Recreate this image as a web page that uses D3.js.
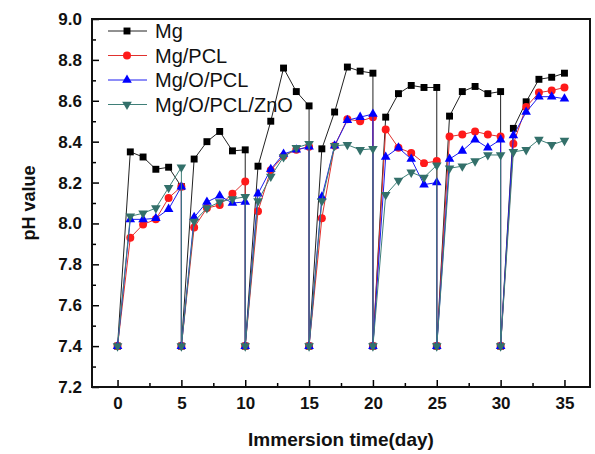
<!DOCTYPE html>
<html>
<head>
<meta charset="utf-8">
<script src="https://cdn.jsdelivr.net/npm/d3@7"></script>
<style>
  body { margin: 0; background: #fff; }
  svg { display: block; font-family: "Liberation Sans", Arial, sans-serif; }
</style>
</head>
<body>
<svg id="chart" width="595" height="454"></svg>
<script>
// immersion days; the medium is refreshed every 5 days so those days appear twice
// (reading before refresh, then the fresh 7.4 value)
var days = [0, 1, 2, 3, 4, 5, 5, 6, 7, 8, 9, 10, 10, 11, 12, 13, 14, 15, 15,
  16, 17, 18, 19, 20, 20, 21, 22, 23, 24, 25, 25, 26, 27, 28, 29, 30, 30,
  31, 32, 33, 34, 35];

var mgValues = [7.4, 8.35, 8.325, 8.265, 8.275, 8.18, 7.4, 8.315, 8.40, 8.45, 8.355, 8.36,
  7.4, 8.28, 8.50, 8.76, 8.645, 8.575, 7.4, 8.365, 8.545, 8.765, 8.745, 8.735,
  7.4, 8.52, 8.635, 8.675, 8.665, 8.665, 7.4, 8.525, 8.645, 8.67, 8.635, 8.645,
  7.4, 8.465, 8.595, 8.705, 8.715, 8.735];
var mgPclValues = [7.4, 7.93, 7.995, 8.02, 8.125, 8.18, 7.4, 7.98, 8.075, 8.09, 8.145, 8.205,
  7.4, 8.06, 8.26, 8.33, 8.36, 8.375, 7.4, 8.025, 8.38, 8.51, 8.50, 8.52,
  7.4, 8.46, 8.37, 8.345, 8.295, 8.305, 7.4, 8.425, 8.435, 8.45, 8.435, 8.425,
  7.4, 8.39, 8.57, 8.64, 8.65, 8.665];
var mgOPclValues = [7.4, 8.02, 8.02, 8.025, 8.07, 8.18, 7.4, 8.03, 8.105, 8.135, 8.10, 8.105,
  7.4, 8.145, 8.265, 8.34, 8.36, 8.375, 7.4, 8.13, 8.38, 8.505, 8.52, 8.535,
  7.4, 8.325, 8.37, 8.315, 8.19, 8.20, 7.4, 8.315, 8.355, 8.41, 8.37, 8.41,
  7.4, 8.43, 8.545, 8.62, 8.62, 8.61];
var mgOPclZnoValues = [7.4, 8.035, 8.05, 8.075, 8.175, 8.275, 7.4, 8.01, 8.075, 8.105, 8.12, 8.13,
  7.4, 8.11, 8.23, 8.325, 8.37, 8.39, 7.4, 8.11, 8.38, 8.385, 8.36, 8.365,
  7.4, 8.14, 8.21, 8.25, 8.225, 8.285, 7.4, 8.27, 8.28, 8.305, 8.335, 8.335,
  7.4, 8.35, 8.36, 8.41, 8.385, 8.405];

var seriesNames = ['Mg', 'Mg/PCL', 'Mg/O/PCL', 'Mg/O/PCL/ZnO'];
var seriesValues = [mgValues, mgPclValues, mgOPclValues, mgOPclZnoValues];

var xTicks = [0, 5, 10, 15, 20, 25, 30, 35];
var yTicks = [7.2, 7.4, 7.6, 7.8, 8.0, 8.2, 8.4, 8.6, 8.8, 9.0];

// styling per series (colour + marker)
var styles = [
  {line: '#222', fill: '#000', symbol: d3.symbolSquare, size: 48, rotate: 0},
  {line: '#e0312e', fill: '#ff1a1a', symbol: d3.symbolCircle, size: 50, rotate: 0},
  {line: '#1c1cf0', fill: '#0000ff', symbol: d3.symbolTriangle, size: 40, rotate: 0},
  {line: '#3f7f78', fill: '#33706a', symbol: d3.symbolTriangle, size: 40, rotate: 180}
];

var margin = {top: 19, right: 5, bottom: 67, left: 92};
var width = 595, height = 454;

var svg = d3.select('#chart');

var x = d3.scaleLinear().domain([-2, 37]).range([margin.left, width - margin.right]);
var y = d3.scaleLinear().domain([7.2, 9.0]).range([height - margin.bottom, margin.top]);

// minor ticks first so the major ones draw over them
svg.append('g')
  .attr('transform', 'translate(0,' + (height - margin.bottom) + ')')
  .call(d3.axisBottom(x).tickValues(d3.range(2.5, 35, 5)).tickSize(-4).tickFormat(''))
  .call(function(g) { g.select('.domain').remove() })
  .selectAll('line').attr('stroke-width', 1.5);

svg.append('g')
  .attr('transform', 'translate(' + margin.left + ',0)')
  .call(d3.axisLeft(y).tickValues(d3.range(7.3, 9.0, 0.2)).tickSize(-4).tickFormat(''))
  .call(function(g) { g.select('.domain').remove() })
  .selectAll('line').attr('stroke-width', 1.5);

var xAxis = svg.append('g')
  .attr('transform', 'translate(0,' + (height - margin.bottom) + ')')
  .call(d3.axisBottom(x).tickValues(xTicks).tickSize(-7).tickPadding(10));
xAxis.select('.domain').remove();
xAxis.selectAll('line').attr('stroke-width', 1.5);
xAxis.selectAll('text')
  .attr('font-size', 17).attr('font-weight', 'bold')
  .attr('font-family', '"Liberation Sans", Arial, sans-serif').attr('fill', '#111');

var yAxis = svg.append('g')
  .attr('transform', 'translate(' + margin.left + ',0)')
  .call(d3.axisLeft(y).tickValues(yTicks).tickSize(-7).tickPadding(10).tickFormat(d3.format('.1f')));
yAxis.select('.domain').remove();
yAxis.selectAll('line').attr('stroke-width', 1.5);
yAxis.selectAll('text')
  .attr('font-size', 17).attr('font-weight', 'bold')
  .attr('font-family', '"Liberation Sans", Arial, sans-serif').attr('fill', '#111');

// plot frame
svg.append('rect')
  .attr('x', margin.left).attr('y', margin.top)
  .attr('width', width - margin.left - margin.right)
  .attr('height', height - margin.top - margin.bottom)
  .attr('fill', 'none').attr('stroke', '#111').attr('stroke-width', 2);

// axis titles
svg.append('text')
  .attr('x', (margin.left + width - margin.right) / 2).attr('y', 446)
  .attr('text-anchor', 'middle')
  .attr('font-size', 19).attr('font-weight', 'bold').attr('fill', '#111')
  .text('Immersion time(day)');

svg.append('text')
  .attr('transform', 'translate(35,' + ((margin.top + height - margin.bottom) / 2) + ') rotate(-90)')
  .attr('text-anchor', 'middle')
  .attr('font-size', 18).attr('font-weight', 'bold').attr('fill', '#111')
  .text('pH value');

var line = d3.line()
  .x(function(d) { return x(d[0]) })
  .y(function(d) { return y(d[1]) });

function markerPath(s) {
  return d3.symbol().type(s.symbol).size(s.size)();
}

// draw each series: line then markers
seriesValues.forEach(function(values, i) {
  var s = styles[i];
  var pts = days.map(function(d, j) { return [d, values[j]] });
  svg.append('path')
    .datum(pts)
    .attr('d', line)
    .attr('fill', 'none')
    .attr('stroke', s.line)
    .attr('stroke-width', 1);

  svg.append('g').selectAll('path')
    .data(pts)
    .join('path')
    .attr('d', markerPath(s))
    .attr('transform', function(d) {
      return 'translate(' + x(d[0]) + ',' + y(d[1]) + ') rotate(' + s.rotate + ')';
    })
    .attr('fill', s.fill);
});

// legend in the top-left corner of the plot
var legend = svg.append('g');
seriesNames.forEach(function(name, i) {
  var s = styles[i];
  var cy = 31 + i * 24.5;
  legend.append('line')
    .attr('x1', 108).attr('x2', 147).attr('y1', cy).attr('y2', cy)
    .attr('stroke', s.line).attr('stroke-width', 1);
  legend.append('path')
    .attr('d', markerPath(s))
    .attr('transform', 'translate(127,' + cy + ') rotate(' + s.rotate + ')')
    .attr('fill', s.fill);
  legend.append('text')
    .attr('x', 155).attr('y', cy + 7)
    .attr('font-size', 20).attr('fill', '#111')
    .text(name);
});
</script>
</body>
</html>
